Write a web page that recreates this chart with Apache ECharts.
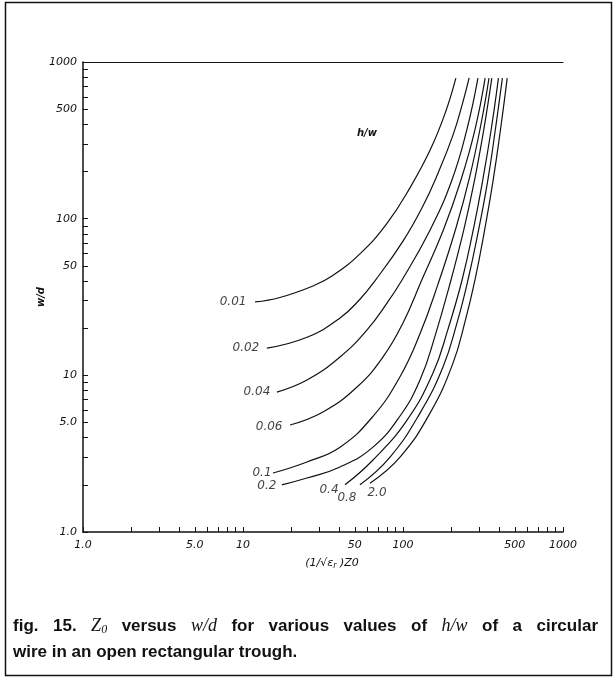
<!DOCTYPE html>
<html><head><meta charset="utf-8">
<script src="https://cdn.jsdelivr.net/npm/echarts@6.0.0/dist/echarts.min.js"></script>
<style>html,body{margin:0;padding:0;background:#fff}#c{width:616px;height:680px}</style>
</head><body><div id="c"></div>
<script>
// h/w parameter of each curve
const hwLabels = ['0.01', '0.02', '0.04', '0.06', '0.1', '0.2', '0.4', '0.8', '2.0'];
// [ (1/sqrt(er)) Z0 , w/d ]
const curve001 = [[11.9,29.4],[17.0,31.4],[27.4,37.2],[36.0,43.0],[53.8,59.6],[79.4,93.3],[111,158.5],[148,275],[183,468],[214,789]];
const curve002 = [[14.1,14.9],[25.1,17.5],[40.4,23.2],[53.8,30.6],[66.8,40.1],[100,71.9],[133,120],[164.8,193],[205,340],[237,557],[259,791]];
const curve004 = [[16.3,7.82],[25.1,9.33],[40.4,13.1],[59.6,19.5],[79.4,28.9],[98.6,40.6],[148,85],[202,176],[251,372],[294,789]];
const curve006 = [[19.7,4.82],[31.6,5.83],[51.6,8.42],[75,13.1],[100,21.6],[131,40.6],[179,85],[230,176],[282,372],[326,789]];
const curve01  = [[15.4,2.38],[25.1,2.8],[40.4,3.48],[64.9,5.47],[95.8,9.8],[127.7,18.4],[165.5,38.2],[213.8,86.5],[261.8,187],[309,414],[344.7,789]];
const curve02  = [[17.5,2.0],[25.1,2.21],[40.4,2.6],[64.9,3.48],[95.8,5.5],[127.7,9.33],[158.5,17.8],[199.5,40.6],[240,85.1],[280,176],[320,372],[359,789]];
const curve04  = [[43.4,2.0],[64.9,2.88],[106,5.18],[154,10.35],[190.5,19.5],[234,40.6],[275,85.1],[315,176],[356,372],[395,789]];
const curve08  = [[53.8,2.0],[83,3.01],[127.7,5.74],[177.8,11.3],[217.5,21.6],[254.7,40.6],[297,85.1],[339,176],[378,372],[418,789]];
const curve20  = [[62.2,2.05],[95.8,3.01],[147.5,5.74],[205.4,11.97],[245.5,22.5],[281.8,40.6],[324,85.1],[366,176],[407,372],[448,789]];
const curves = [curve001, curve002, curve004, curve006, curve01, curve02, curve04, curve08, curve20];

// axis ticks and tick labels (same for both axes)
const tickValues = [1,2,3,4,5,6,7,8,9,10,20,30,40,50,60,70,80,90,100,200,300,400,500,600,700,800,900,1000];
const labelValues = [1, 5, 10, 50, 100, 500, 1000];
const labelTexts = ['1.0', '5.0', '10', '50', '100', '500', '1000'];

// label placement (pixel offsets from each curve's first point) - styling only
const labelOffsets = {
  '0.01': [-22, 0], '0.02': [-21, 0], '0.04': [-20, 0], '0.06': [-21, 2],
  '0.1': [-11, 0], '0.2': [-15, 1], '0.4': [-16, 5], '0.8': [-13, 13], '2.0': [7, 10]
};

const fmt = v => {
  for (let i = 0; i < labelValues.length; i++) {
    if (Math.abs(v - labelValues[i]) < 1e-6 * labelValues[i]) return labelTexts[i];
  }
  return '';
};

const axisLabelStyle = {
  customValues: labelValues, formatter: fmt,
  fontFamily: 'DejaVu Sans', fontStyle: 'italic', fontSize: 11, color: '#111'
};
const lineCol = '#111';

const chart = echarts.init(document.getElementById('c'), null, {renderer: 'canvas'});

const series = curves.map((c, i) => ({
  type: 'line', name: hwLabels[i], data: c, xAxisIndex: 0, yAxisIndex: 0,
  smooth: 0.45, showSymbol: false, symbol: 'none',
  lineStyle: {color: lineCol, width: 1.2}, silent: true, z: 3
}));
series.push({
  type: 'scatter', name: 'labels', xAxisIndex: 0, yAxisIndex: 0,
  symbolSize: 1, itemStyle: {color: 'rgba(0,0,0,0)'}, silent: true, z: 4,
  data: curves.map((c, i) => ({
    value: c[0],
    label: {
      show: true, position: 'inside', formatter: hwLabels[i],
      offset: labelOffsets[hwLabels[i]],
      fontFamily: 'DejaVu Sans', fontStyle: 'italic', fontSize: 12, color: '#111'
    }
  }))
});

const capSp = '{sp| }';
const captionLine1 = ['{t|fig.}', '{t|15.}', '{m|Z}{s|0}', '{t|versus}', '{m|w/d}', '{t|for}', '{t|various}',
  '{t|values}', '{t|of}', '{m|h/w}', '{t|of}', '{t|a}', '{t|circular}'].join(capSp);

chart.setOption({
  animation: false,
  backgroundColor: '#fff',
  grid: {left: 83, right: 53, top: 62, bottom: 148, containLabel: false},
  xAxis: [{
    type: 'log', logBase: 10, min: 1, max: 1000, position: 'bottom',
    axisLine: {show: true, lineStyle: {color: lineCol, width: 1.5}},
    axisTick: {show: true, inside: true, length: 5, customValues: tickValues, lineStyle: {color: lineCol, width: 1}},
    minorTick: {show: false}, splitLine: {show: false},
    axisLabel: Object.assign({margin: 8}, axisLabelStyle),
    name: '{a|(1/√ε}{b|r}{a| )Z0}', nameLocation: 'middle', nameGap: 24, nameMoveOverlap: false,
    nameTextStyle: {
      padding: [0, 0, 0, 18],
      rich: {
        a: {fontFamily: 'DejaVu Sans', fontStyle: 'italic', fontSize: 11, color: '#111'},
        b: {fontFamily: 'DejaVu Sans', fontStyle: 'italic', fontSize: 8, color: '#111', padding: [6, 0, 0, 0]}
      }
    }
  }, {
    type: 'log', logBase: 10, min: 1, max: 1000, position: 'top',
    axisLine: {show: true, lineStyle: {color: lineCol, width: 1.2}},
    axisTick: {show: false}, axisLabel: {show: false}, splitLine: {show: false}
  }],
  yAxis: [{
    type: 'log', logBase: 10, min: 1, max: 1000, position: 'left',
    axisLine: {show: true, lineStyle: {color: lineCol, width: 1.5}},
    axisTick: {show: true, inside: true, length: 5, customValues: tickValues, lineStyle: {color: lineCol, width: 1}},
    minorTick: {show: false}, splitLine: {show: false},
    axisLabel: Object.assign({margin: 6}, axisLabelStyle),
    name: 'w/d', nameLocation: 'middle', nameGap: 37, nameMoveOverlap: false,
    nameTextStyle: {fontFamily: 'DejaVu Sans', fontStyle: 'italic', fontWeight: 'bold', fontSize: 10, color: '#111'}
  }],
  graphic: [
    {type: 'rect', shape: {x: 5.5, y: 2.5, width: 606, height: 673}, style: {fill: 'none', stroke: '#111', lineWidth: 1.5}, silent: true},
    {type: 'text', left: 357, top: 128, style: {text: 'h/w', fontFamily: 'DejaVu Sans', fontStyle: 'italic', fontWeight: 'bold', fontSize: 10, fill: '#111'}},
    {type: 'text', left: 13, top: 613, style: {
      text: captionLine1 + '\n{t|wire in an open rectangular trough.}',
      lineHeight: 26,
      rich: {
        t: {fontFamily: 'Liberation Sans', fontWeight: 'bold', fontSize: 17, fill: '#111', lineHeight: 26},
        sp: {fontFamily: 'Liberation Sans', fontWeight: 'bold', fontSize: 17, fill: '#111', lineHeight: 26, width: 14.5},
        m: {fontFamily: 'Liberation Serif', fontStyle: 'italic', fontSize: 18, fill: '#111', lineHeight: 26},
        s: {fontFamily: 'Liberation Serif', fontStyle: 'italic', fontSize: 12, fill: '#111', lineHeight: 26, padding: [8, 0, 0, 0]}
      }
    }}
  ],
  series: series
});
</script>
</body></html>
